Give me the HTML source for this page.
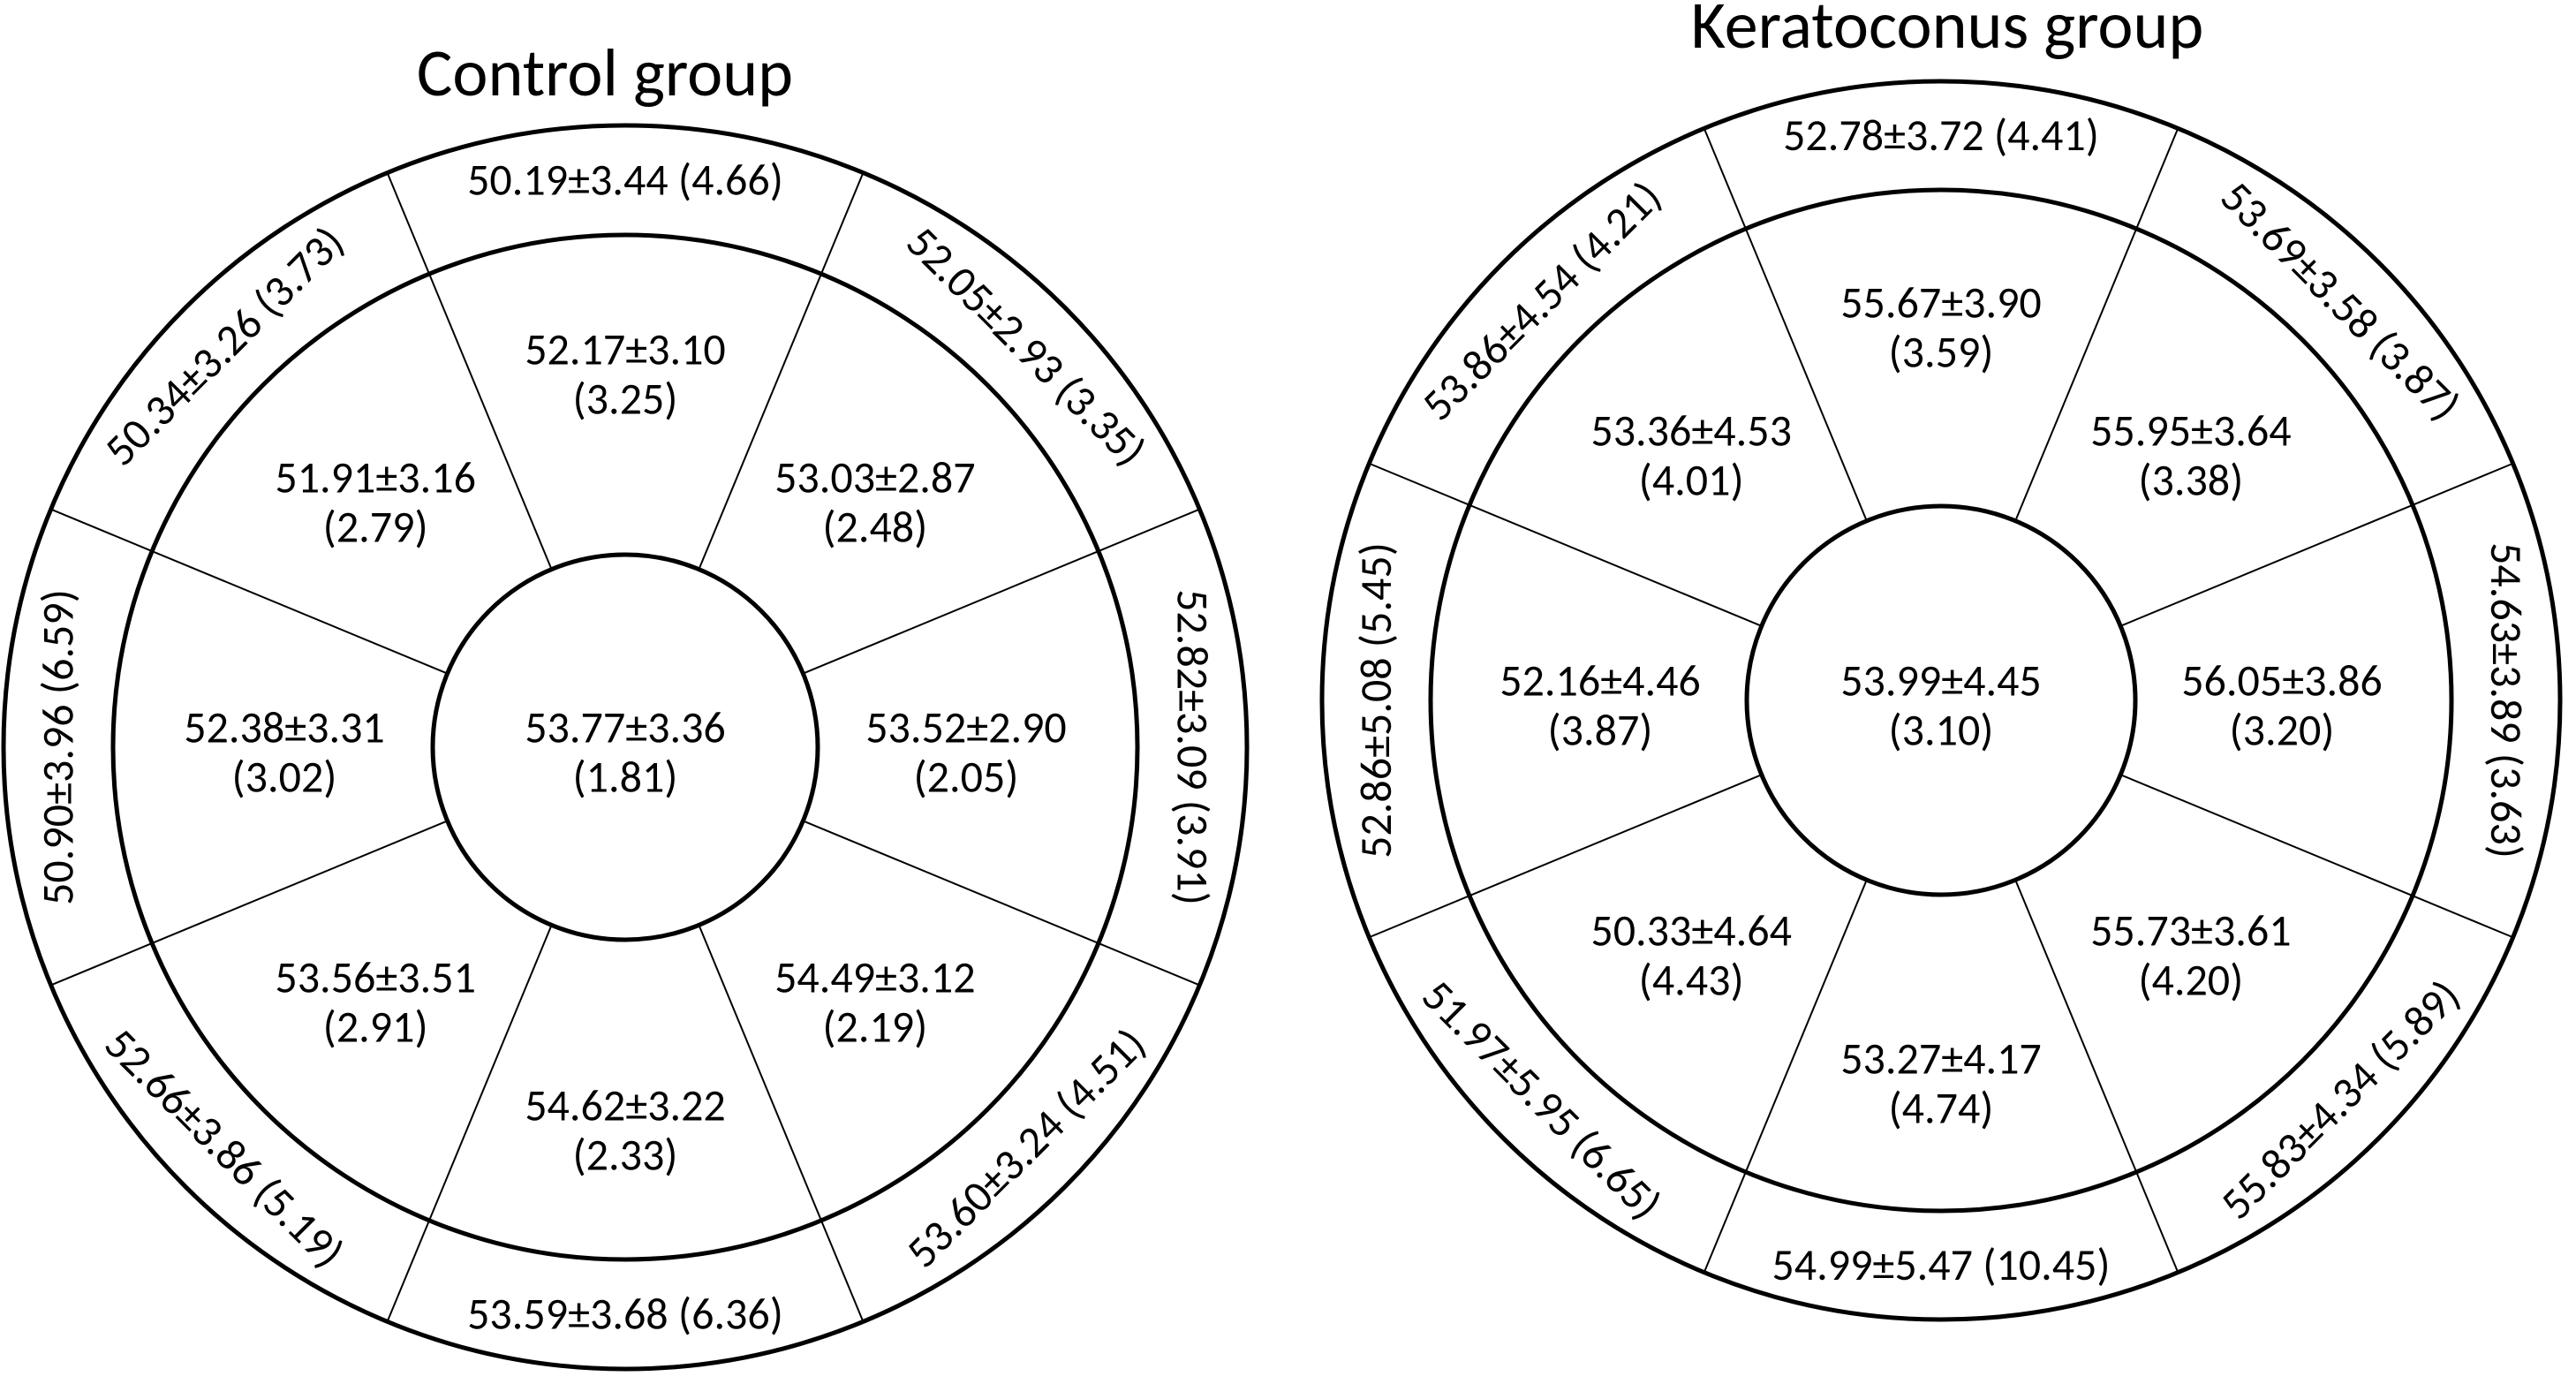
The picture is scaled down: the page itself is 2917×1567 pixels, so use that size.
<!DOCTYPE html>
<html><head><meta charset="utf-8"><style>
html,body{margin:0;padding:0;background:#fff;}
svg{display:block;font-family:Carlito,"Liberation Sans",sans-serif;}
</style></head><body>
<svg id="chart" width="2917" height="1567" viewBox="0 0 2917 1567" xmlns="http://www.w3.org/2000/svg">
<text x="685" y="108" font-size="76" text-anchor="middle">Control group</text>
<text x="2205" y="54" font-size="76" text-anchor="middle">Keratoconus group</text>
</svg>
<script>
// sector order: top, top-right, right, bottom-right, bottom, bottom-left, left, top-left
const sectorAngles = [0, 45, 90, 135, 180, 225, 270, 315];
const controlCenter = ["53.77±3.36", "(1.81)"];
const controlInnerMain = ["52.17±3.10","53.03±2.87","53.52±2.90","54.49±3.12","54.62±3.22","53.56±3.51","52.38±3.31","51.91±3.16"];
const controlInnerSub = ["(3.25)","(2.48)","(2.05)","(2.19)","(2.33)","(2.91)","(3.02)","(2.79)"];
const controlOuter = ["50.19±3.44 (4.66)","52.05±2.93 (3.35)","52.82±3.09 (3.91)","53.60±3.24 (4.51)","53.59±3.68 (6.36)","52.66±3.86 (5.19)","50.90±3.96 (6.59)","50.34±3.26 (3.73)"];
const keratoCenter = ["53.99±4.45", "(3.10)"];
const keratoInnerMain = ["55.67±3.90","55.95±3.64","56.05±3.86","55.73±3.61","53.27±4.17","50.33±4.64","52.16±4.46","53.36±4.53"];
const keratoInnerSub = ["(3.59)","(3.38)","(3.20)","(4.20)","(4.74)","(4.43)","(3.87)","(4.01)"];
const keratoOuter = ["52.78±3.72 (4.41)","53.69±3.58 (3.87)","54.63±3.89 (3.63)","55.83±4.34 (5.89)","54.99±5.47 (10.45)","51.97±5.95 (6.65)","52.86±5.08 (5.45)","53.86±4.54 (4.21)"];

const NS = "http://www.w3.org/2000/svg";
const svg = document.getElementById("chart");
const FS = 50, HALF = 28;
const labelRadius = [428, 400, 386, 400, 428, 400, 386, 400];
function mk(tag, attrs){const e=document.createElementNS(NS,tag);for(const k in attrs)e.setAttribute(k,attrs[k]);svg.appendChild(e);return e;}
function pt(cx,cy,r,deg){const a=deg*Math.PI/180;return [cx+r*Math.sin(a), cy-r*Math.cos(a)];}

function drawChart(prefix,cx,cy,rIn,rMid,rOut,center,innerMain,innerSub,outer){
  [[rOut,"outer-ring"],[rMid,"middle-ring"],[rIn,"central-zone"]].forEach(([r,n])=>{
    const c=mk("circle",{cx:cx,cy:cy,r:r,fill:"none",stroke:"#000","stroke-width":5});
    
    
  });
  sectorAngles.forEach((ang,i)=>{
    const b=ang+22.5;
    const p1=pt(cx,cy,rIn,b),p2=pt(cx,cy,rMid,b),p3=pt(cx,cy,rOut,b);
    const l1=mk("line",{x1:p1[0],y1:p1[1],x2:p2[0],y2:p2[1],stroke:"#000","stroke-width":2});
    
    
    const l2=mk("line",{x1:p2[0],y1:p2[1],x2:p3[0],y2:p3[1],stroke:"#000","stroke-width":2});
    
    
    const q=pt(cx,cy,labelRadius[i],ang);
    const t1=mk("text",{x:q[0],y:q[1]-HALF+6,"font-size":FS,"text-anchor":"middle","dominant-baseline":"central"});
    t1.textContent=innerMain[i];
    
    
    const t2=mk("text",{x:q[0],y:q[1]+HALF+6,"font-size":FS,"text-anchor":"middle","dominant-baseline":"central"});
    t2.textContent=innerSub[i];
    
    
    const o=pt(cx,cy,(rMid+rOut)/2,ang);
    let rot = ang<=90 ? ang : (ang<270 ? ang-180 : ang-360);
    const t3=mk("text",{x:o[0],y:o[1],"font-size":FS,"text-anchor":"middle","dominant-baseline":"central",transform:`rotate(${rot} ${o[0]} ${o[1]})`});
    t3.textContent=outer[i];
    
    
  });
  const c1=mk("text",{x:cx,y:cy-HALF+6,"font-size":FS,"text-anchor":"middle","dominant-baseline":"central"});
  c1.textContent=center[0];
  
  
  const c2=mk("text",{x:cx,y:cy+HALF+6,"font-size":FS,"text-anchor":"middle","dominant-baseline":"central"});
  c2.textContent=center[1];
  
  
}
drawChart("control",708,846,218,580,704,controlCenter,controlInnerMain,controlInnerSub,controlOuter);
drawChart("keratoconus",2198,793,220,578,701,keratoCenter,keratoInnerMain,keratoInnerSub,keratoOuter);
</script>
</body></html>
